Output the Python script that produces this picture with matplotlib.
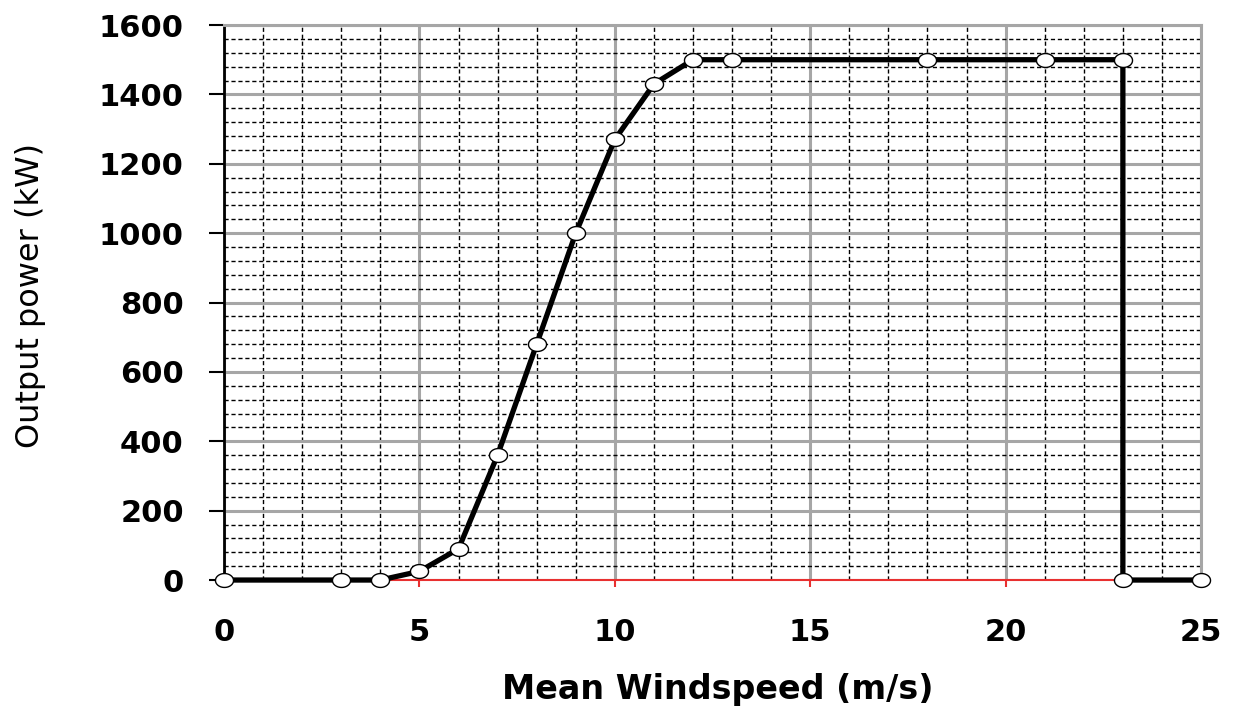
import numpy as np
import matplotlib
matplotlib.use("Agg")
import matplotlib.pyplot as plt
from matplotlib.path import Path
from matplotlib.ticker import MultipleLocator

# Power curve of a 1.5 MW wind turbine
windspeed = [0, 3, 4, 5, 6, 7, 8, 9, 10, 11, 12, 13, 18, 21, 23, 23, 25]
power_kw = [0, 0, 0, 25, 90, 360, 680, 1000, 1270, 1430, 1500, 1500, 1500, 1500, 1500, 0, 0]

x_ticks = [0, 5, 10, 15, 20, 25]
y_ticks = [0, 200, 400, 600, 800, 1000, 1200, 1400, 1600]

plt.rcParams['font.family'] = ['DejaVu Sans']

# Slightly flattened ellipse for point markers
t = np.linspace(0, 2 * np.pi, 60)
ellipse = Path(np.column_stack([1.3 * np.cos(t), np.sin(t)]), closed=True)

fig = plt.figure(figsize=(12.35, 7.11), dpi=100)
ax = fig.add_axes([0.1814, 0.1842, 0.7911, 0.7806])

ax.set_xlim(0, 25)
ax.set_ylim(0, 1600)

ax.xaxis.set_major_locator(MultipleLocator(5))
ax.xaxis.set_minor_locator(MultipleLocator(1))
ax.yaxis.set_major_locator(MultipleLocator(200))
ax.yaxis.set_minor_locator(MultipleLocator(40))

ax.grid(which='minor', color='black', linestyle=(0, (3, 2)), linewidth=1.0, zorder=0)
ax.grid(which='major', color='#a6a6a6', linestyle='-', linewidth=2.2, zorder=0.5)

ax.plot(windspeed, power_kw, color='black', linewidth=3.8, zorder=3, clip_on=False,
        marker=ellipse, markersize=13, markerfacecolor='white',
        markeredgecolor='black', markeredgewidth=1.0)

for s in ['top', 'right']:
    ax.spines[s].set_color('#a6a6a6')
    ax.spines[s].set_linewidth(2.2)
ax.spines['left'].set_color('black')
ax.spines['left'].set_linewidth(2.0)
ax.spines['bottom'].set_color('#e83030')
ax.spines['bottom'].set_linewidth(1.5)

ax.set_xticks(x_ticks)
ax.set_yticks(y_ticks)
ax.tick_params(axis='x', which='major', direction='out', length=5, width=1.5,
               color='#e83030', labelsize=22, pad=22)
ax.tick_params(axis='y', which='major', direction='out', length=11, width=1.5,
               color='black', labelsize=22, pad=18)
ax.tick_params(which='minor', length=0)
for lbl in ax.get_xticklabels() + ax.get_yticklabels():
    lbl.set_fontweight('bold')

ax.set_xlabel('Mean Windspeed (m/s)', fontsize=24, fontweight='bold')
ax.set_ylabel('Output power (kW)', fontsize=23)
ax.xaxis.set_label_coords(0.505, -0.168)
ax.yaxis.set_label_coords(-0.182, 0.513)

fig.savefig('out.png', dpi=100)
